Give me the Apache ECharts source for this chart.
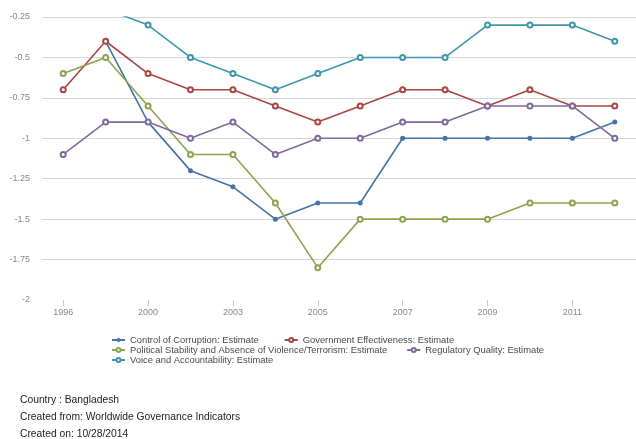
<!DOCTYPE html>
<html>
<head>
<meta charset="utf-8">
<script src="https://cdn.jsdelivr.net/npm/echarts@6/dist/echarts.min.js"></script>
<style>
  html, body { margin: 0; padding: 0; background: #fff; }
  #chart { width: 636px; height: 439px; }
</style>
</head>
<body>
<div id="chart"></div>
<script>
  var years = ['1996', '1998', '2000', '2002', '2003', '2004', '2005', '2006', '2007', '2008', '2009', '2010', '2011', '2012'];
  var corruption = [null, -0.4, -0.9, -1.2, -1.3, -1.5, -1.4, -1.4, -1.0, -1.0, -1.0, -1.0, -1.0, -0.9];
  var effectiveness = [-0.7, -0.4, -0.6, -0.7, -0.7, -0.8, -0.9, -0.8, -0.7, -0.7, -0.8, -0.7, -0.8, -0.8];
  var stability = [-0.6, -0.5, -0.8, -1.1, -1.1, -1.4, -1.8, -1.5, -1.5, -1.5, -1.5, -1.4, -1.4, -1.4];
  var regulatory = [-1.1, -0.9, -0.9, -1.0, -0.9, -1.1, -1.0, -1.0, -0.9, -0.9, -0.8, -0.8, -0.8, -1.0];
  var voice = [-0.2, -0.2, -0.3, -0.5, -0.6, -0.7, -0.6, -0.5, -0.5, -0.5, -0.3, -0.3, -0.3, -0.4];

  var names = [
    'Control of Corruption: Estimate',
    'Government Effectiveness: Estimate',
    'Political Stability and Absence of Violence/Terrorism: Estimate',
    'Regulatory Quality: Estimate',
    'Voice and Accountability: Estimate'
  ];
  var colors = ['#4572A7', '#AA4643', '#89A54E', '#80699B', '#3D96AE'];
  var values = [corruption, effectiveness, stability, regulatory, voice];

  var myChart = echarts.init(document.getElementById('chart'));
  var font = 'Liberation Sans, Arial, sans-serif';

  // three legend rows, like the original's wrapped legend
  var legendBase = {
    orient: 'horizontal',
    left: 111,
    itemWidth: 13,
    itemHeight: 5,
    padding: 0,
    textStyle: { fontSize: 9.4, lineHeight: 10, color: '#4a4a4a', fontFamily: font }
  };

  var option = {
    animation: false,
    color: colors,
    grid: { left: 42, right: -6, top: 17, bottom: 139, containLabel: false },
    legend: [
      Object.assign({}, legendBase, { top: 335, itemGap: 25, data: [names[0], names[1]] }),
      Object.assign({}, legendBase, { top: 345, itemGap: 19, data: [names[2], names[3]] }),
      Object.assign({}, legendBase, { top: 355, data: [names[4]] })
    ],
    xAxis: {
      type: 'category',
      data: years,
      boundaryGap: true,
      axisLine: { show: false },
      axisTick: { show: true, interval: 1, alignWithLabel: true, length: 6, lineStyle: { color: '#c8c8c8' } },
      axisLabel: { interval: 1, fontSize: 9, color: '#888', fontFamily: font, margin: 8 }
    },
    yAxis: {
      type: 'value',
      min: -2,
      max: -0.25,
      interval: 0.25,
      axisLine: { show: false },
      axisTick: { show: false },
      axisLabel: { fontSize: 9, color: '#888', fontFamily: font, margin: 12 },
      splitLine: { showMinLine: false, lineStyle: { color: '#d6d6d6', width: 1 } }
    },
    series: names.map(function (n, i) {
      return {
        name: n,
        type: 'line',
        data: values[i],
        symbol: i === 0 ? 'circle' : 'emptyCircle',
        symbolSize: 5,
        showAllSymbol: true,
        connectNulls: false,
        lineStyle: { width: 1.6 },
        itemStyle: { color: colors[i], borderWidth: 1.5 }
      };
    }),
    graphic: [
      { type: 'text', left: 20, top: 395, style: { text: 'Country : Bangladesh', font: '10.3px ' + font, fill: '#222' } },
      { type: 'text', left: 20, top: 412, style: { text: 'Created from: Worldwide Governance Indicators', font: '10.3px ' + font, fill: '#222' } },
      { type: 'text', left: 20, top: 429, style: { text: 'Created on: 10/28/2014', font: '10.3px ' + font, fill: '#222' } }
    ]
  };
  option && myChart.setOption(option);
</script>
</body>
</html>
